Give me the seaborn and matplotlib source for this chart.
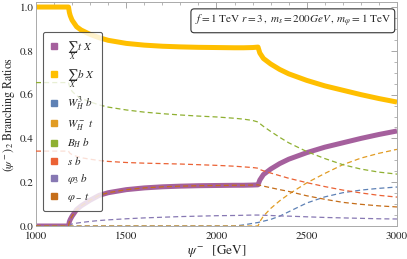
import matplotlib
matplotlib.use("Agg")
import matplotlib.pyplot as plt
from matplotlib.lines import Line2D
from matplotlib.ticker import MultipleLocator
import seaborn as sns
import pandas as pd

# ---------------- data ----------------
mass = [1000, 1100, 1180, 1185, 1190, 1200, 1225, 1250, 1300, 1350, 1400, 1500,
        1600, 1700, 1800, 1900, 2000, 2100, 2150, 2200, 2230, 2240, 2260, 2300,
        2350, 2400, 2500, 2600, 2700, 2800, 2900, 3000]

sum_tX = [0, 0, 0, 0.02, 0.03, 0.045, 0.075, 0.092, 0.118, 0.14, 0.152, 0.166,
          0.174, 0.179, 0.182, 0.184, 0.185, 0.186, 0.186, 0.187, 0.188, 0.21,
          0.235, 0.26, 0.285, 0.305, 0.335, 0.36, 0.38, 0.40, 0.418, 0.434]
sum_bX = [1, 1, 1, 0.975, 0.96, 0.94, 0.91, 0.895, 0.875, 0.86, 0.848, 0.834,
          0.826, 0.821, 0.818, 0.816, 0.815, 0.814, 0.814, 0.815, 0.817, 0.79,
          0.765, 0.74, 0.715, 0.695, 0.665, 0.64, 0.62, 0.60, 0.582, 0.566]
W3_b = [0, 0, 0, 0, 0, 0, 0, 0, 0, 0, 0, 0, 0, 0, 0, 0, 0,
        0, 0.005, 0.012, 0.016, 0.018, 0.022, 0.03, 0.045, 0.065, 0.105, 0.133,
        0.152, 0.164, 0.172, 0.178]
Wm_t = [0, 0, 0, 0, 0, 0, 0, 0, 0, 0, 0, 0, 0, 0, 0, 0, 0, 0, 0, 0, 0,
        0.02, 0.045, 0.08, 0.115, 0.145, 0.197, 0.24, 0.28, 0.31, 0.332, 0.35]
BH_b = [0.655, 0.655, 0.655, 0.64, 0.63, 0.615, 0.595, 0.583, 0.567, 0.553,
        0.543, 0.53, 0.52, 0.513, 0.507, 0.502, 0.498, 0.492, 0.488, 0.482,
        0.475, 0.468, 0.455, 0.432, 0.405, 0.38, 0.34, 0.308, 0.28, 0.26,
        0.246, 0.237]
s_b = [0.342, 0.342, 0.342, 0.335, 0.331, 0.326, 0.318, 0.312, 0.305, 0.299,
       0.295, 0.29, 0.287, 0.285, 0.283, 0.28, 0.277, 0.273, 0.27, 0.267,
       0.264, 0.258, 0.252, 0.242, 0.23, 0.218, 0.198, 0.18, 0.164, 0.151,
       0.14, 0.132]
phi3_b = [0, 0, 0, 0.004, 0.006, 0.009, 0.013, 0.016, 0.021, 0.025, 0.028,
          0.033, 0.037, 0.04, 0.043, 0.045, 0.047, 0.048, 0.049, 0.05, 0.05,
          0.05, 0.049, 0.048, 0.046, 0.045, 0.042, 0.039, 0.037, 0.035, 0.033,
          0.032]
phim_t = [0, 0, 0, 0.02, 0.03, 0.045, 0.075, 0.092, 0.118, 0.14, 0.152, 0.166,
          0.174, 0.179, 0.182, 0.184, 0.185, 0.186, 0.186, 0.187, 0.188, 0.186,
          0.182, 0.175, 0.166, 0.158, 0.138, 0.122, 0.108, 0.099, 0.092, 0.087]

labels = [r"$\sum_{X}\, t\ X$", r"$\sum_{X}\, b\ X$", r"$W_H^3\ b$",
          r"$W_H^-\ t$", r"$B_H\ b$", r"$s\ b$", r"$\varphi_3\ b$",
          r"$\varphi_-\ t$"]
colors = ["#A5609D", "#FFBF00", "#5E81B5", "#E19C24", "#8FB032", "#EB6235",
          "#8778B3", "#C56E1A"]
xticks = [1000, 1500, 2000, 2500, 3000]
yticks = [0.0, 0.2, 0.4, 0.6, 0.8, 1.0]

# ---------------- figure ----------------
sns.set_style("white")
plt.rcParams["font.family"] = ["STIXGeneral", "DejaVu Serif"]
plt.rcParams["mathtext.fontset"] = "stix"

fig = plt.figure(figsize=(4.07, 2.59), dpi=100)
ax = fig.add_axes([36 / 407, 1 - 226 / 259, (397 - 36) / 407, (226 - 2) / 259])

series = [sum_tX, sum_bX, W3_b, Wm_t, BH_b, s_b, phi3_b, phim_t]
for i, (vals, col) in enumerate(zip(series, colors)):
    df = pd.DataFrame({"m": mass, "br": vals})
    if i < 2:
        sns.lineplot(data=df, x="m", y="br", ax=ax, color=col, lw=3.6,
                     solid_capstyle="butt", zorder=2)
    else:
        sns.lineplot(data=df, x="m", y="br", ax=ax, color=col, lw=0.9,
                     linestyle=(0, (4, 2.5)), zorder=3)

ax.set_xlim(1000, 3000)
ax.set_ylim(0, 1.023)
ax.set_xticks(xticks)
ax.set_xticklabels([str(v) for v in xticks])
ax.set_yticks(yticks)
ax.set_yticklabels([f"{v:.1f}" for v in yticks])
ax.xaxis.set_minor_locator(MultipleLocator(100))
ax.yaxis.set_minor_locator(MultipleLocator(0.05))
ax.tick_params(which="both", direction="in", top=True, right=True,
               colors="#999999", labelcolor="#222222", labelsize=8)
ax.tick_params(axis="x", pad=4)
ax.tick_params(axis="y", pad=2)
ax.tick_params(which="major", length=4, width=0.6)
ax.tick_params(which="minor", length=2, width=0.5)
for sp in ax.spines.values():
    sp.set_color("#aaaaaa")
    sp.set_linewidth(0.7)

ax.set_xlabel(r"$\psi^-$  [GeV]", fontsize=9.5, labelpad=1)
ax.set_ylabel(r"$(\psi^-)_2$ Branching Ratios", fontsize=8.5, labelpad=2)

handles = [Line2D([], [], marker="s", linestyle="none", markersize=5,
                  markerfacecolor=c, markeredgecolor=c) for c in colors]
leg = ax.legend(handles, labels, loc="upper left",
                bbox_to_anchor=((43 - 36) / 361, (226 - 32) / 224),
                borderaxespad=0, fontsize=8, labelspacing=0.45,
                handlelength=0.8, handletextpad=0.8, borderpad=0.6,
                frameon=True, fancybox=True, framealpha=0.8,
                edgecolor="#333333", facecolor="white")
leg.get_frame().set_linewidth(0.8)
leg.set_zorder(10)

ax.text(0.983, 0.952,
        r"$f=1$ TeV $r=3\,,\; m_s=200GeV\,,\; m_{\varphi}=1$ TeV",
        transform=ax.transAxes, ha="right", va="top", fontsize=8,
        bbox=dict(boxstyle="round,pad=0.35,rounding_size=0.3",
                  fc="white", ec="#333333", lw=0.8), zorder=11)

fig.savefig("out.png", dpi=100)
